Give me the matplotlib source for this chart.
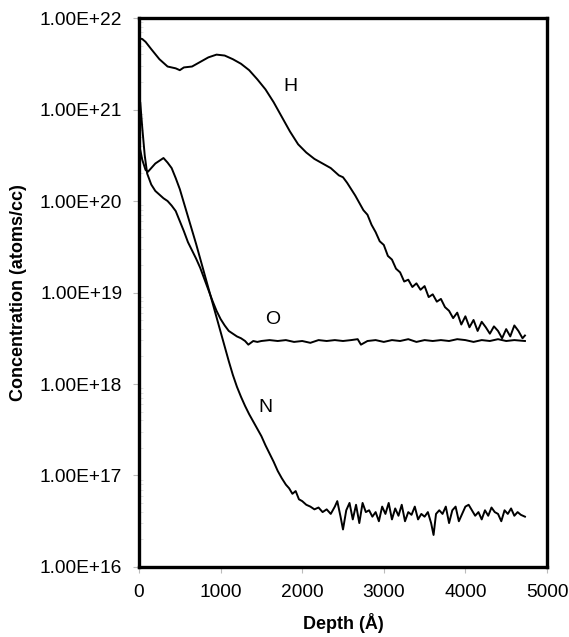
import numpy as np
import matplotlib
matplotlib.use('Agg')
import matplotlib.pyplot as plt
from matplotlib.ticker import FixedLocator, FuncFormatter, LogLocator, NullFormatter

plt.rcParams['font.family'] = ['Liberation Sans', 'DejaVu Sans']

# Depth profiles (depth in Angstrom, log10 of concentration in atoms/cc)
h_depth = [0, 40, 80, 150, 250, 350, 450, 500, 550, 650, 750, 850, 950, 1050, 1150,
           1250, 1350, 1450, 1550, 1650, 1750, 1850, 1950, 2050, 2150, 2250, 2350,
           2450, 2500, 2550, 2650, 2750, 2800, 2850, 2900, 2950, 3000, 3050, 3100,
           3150, 3200, 3250, 3300, 3350, 3400, 3450, 3500, 3550, 3600, 3650, 3700,
           3750, 3800, 3850, 3900, 3950, 4000, 4050, 4100, 4150, 4200, 4250, 4300,
           4350, 4400, 4450, 4500, 4550, 4600, 4650, 4700, 4730]
h_log = [21.78, 21.77, 21.74, 21.66, 21.55, 21.47, 21.45, 21.43, 21.46, 21.47, 21.52,
         21.57, 21.60, 21.59, 21.55, 21.50, 21.43, 21.33, 21.22, 21.08, 20.92, 20.76,
         20.62, 20.53, 20.46, 20.41, 20.36, 20.28, 20.26, 20.20, 20.06, 19.90, 19.85,
         19.74, 19.66, 19.56, 19.52, 19.40, 19.36, 19.26, 19.22, 19.12, 19.14, 19.06,
         19.10, 19.03, 19.07, 18.95, 18.98, 18.90, 18.93, 18.84, 18.80, 18.72, 18.78,
         18.65, 18.74, 18.62, 18.70, 18.58, 18.68, 18.62, 18.55, 18.63, 18.58, 18.50,
         18.60, 18.52, 18.64, 18.58, 18.50, 18.53]

o_depth = [0, 15, 40, 70, 100, 150, 200, 250, 300, 350, 400, 450, 500, 550, 600, 650,
           700, 750, 800, 850, 900, 950, 1000, 1050, 1100, 1150, 1200, 1250, 1300,
           1340, 1400, 1450, 1500, 1600, 1700, 1800, 1900, 2000, 2100, 2200, 2300,
           2400, 2500, 2600, 2680, 2720, 2800, 2900, 3000, 3100, 3200, 3300, 3400,
           3500, 3600, 3700, 3800, 3900, 4000, 4100, 4200, 4300, 4400, 4500, 4600,
           4730]
o_log = [20.85, 21.08, 20.80, 20.50, 20.30, 20.18, 20.11, 20.07, 20.03, 20.00, 19.95,
         19.89, 19.78, 19.67, 19.55, 19.46, 19.37, 19.27, 19.15, 19.03, 18.91, 18.80,
         18.71, 18.64, 18.58, 18.55, 18.52, 18.50, 18.47, 18.43, 18.47, 18.46, 18.47,
         18.48, 18.47, 18.48, 18.46, 18.47, 18.45, 18.48, 18.47, 18.48, 18.47, 18.48,
         18.49, 18.43, 18.47, 18.48, 18.46, 18.48, 18.47, 18.49, 18.46, 18.48, 18.47,
         18.48, 18.47, 18.49, 18.48, 18.46, 18.48, 18.47, 18.49, 18.47, 18.48, 18.47]

n_depth = [0, 15, 40, 80, 110, 150, 200, 250, 300, 350, 400, 450, 500, 550, 600, 650,
           700, 750, 800, 850, 900, 950, 1000, 1050, 1100, 1150, 1200, 1250, 1300,
           1350, 1400, 1450, 1500, 1550, 1600, 1650, 1700, 1750, 1800, 1840, 1880,
           1920, 1960, 2000, 2050, 2100, 2150, 2200, 2250, 2300, 2350, 2400, 2430,
           2470, 2500, 2540, 2580, 2620, 2660, 2700, 2740, 2780, 2820, 2860, 2900,
           2940, 2980, 3020, 3060, 3100, 3140, 3180, 3220, 3260, 3300, 3340, 3380,
           3420, 3460, 3500, 3540, 3580, 3610, 3640, 3680, 3720, 3760, 3800, 3840,
           3880, 3920, 3960, 4000, 4040, 4080, 4120, 4160, 4200, 4240, 4280, 4320,
           4360, 4400, 4440, 4480, 4520, 4560, 4600, 4640, 4680, 4730]
n_log = [20.45, 20.56, 20.45, 20.34, 20.32, 20.36, 20.41, 20.44, 20.47, 20.42, 20.36,
         20.25, 20.13, 19.98, 19.83, 19.68, 19.53, 19.37, 19.21, 19.05, 18.89, 18.73,
         18.57, 18.41, 18.25, 18.10, 17.97, 17.86, 17.76, 17.67, 17.59, 17.51, 17.43,
         17.33, 17.24, 17.15, 17.05, 16.97, 16.90, 16.86, 16.80, 16.83, 16.74, 16.72,
         16.68, 16.66, 16.63, 16.65, 16.60, 16.63, 16.58, 16.66, 16.72, 16.55, 16.41,
         16.62, 16.70, 16.52, 16.68, 16.48, 16.70, 16.60, 16.62, 16.55, 16.60, 16.50,
         16.66, 16.58, 16.70, 16.52, 16.64, 16.56, 16.68, 16.50, 16.60, 16.57, 16.66,
         16.52, 16.58, 16.55, 16.60, 16.48, 16.35, 16.58, 16.62, 16.58, 16.66, 16.48,
         16.62, 16.66, 16.50, 16.58, 16.66, 16.68, 16.62, 16.56, 16.60, 16.52, 16.62,
         16.56, 16.65, 16.60, 16.58, 16.50, 16.62, 16.58, 16.64, 16.56, 16.60, 16.57,
         16.55]

y_ticks = [1e16, 1e17, 1e18, 1e19, 1e20, 1e21, 1e22]
x_ticks = [0, 1000, 2000, 3000, 4000, 5000]

fig = plt.figure(figsize=(5.69, 6.37), dpi=100)
ax = fig.add_axes([0.2443, 0.1099, 0.7170, 0.8618])

for d, v in [(h_depth, h_log), (o_depth, o_log), (n_depth, n_log)]:
    ax.plot(d, 10 ** np.array(v), color='black', lw=1.4)

ax.set_yscale('log')
ax.set_ylim(1e16, 1e22)
ax.set_xlim(0, 5000)

ax.yaxis.set_major_locator(FixedLocator(y_ticks))
ax.yaxis.set_major_formatter(FuncFormatter(lambda v, p: '%.2E' % v))
ax.yaxis.set_minor_locator(LogLocator(base=10, subs=np.arange(2, 10), numticks=20))
ax.yaxis.set_minor_formatter(NullFormatter())
ax.xaxis.set_major_locator(FixedLocator(x_ticks))

ax.tick_params(axis='both', which='major', direction='out', length=4, width=0.8,
               color='#bbbbbb', labelsize=13.8, pad=8)
ax.tick_params(axis='y', which='minor', direction='in', length=3, width=0.6,
               color='#dddddd')

for s in ax.spines.values():
    s.set_linewidth(2.4)

ax.set_xlabel('Depth (Å)', fontsize=13, fontweight='bold', labelpad=9)
ax.set_ylabel('Concentration (atoms/cc)', fontsize=13, fontweight='bold', labelpad=9)

ax.text(1850, 10 ** 21.25, 'H', fontsize=14, ha='center', va='center')
ax.text(1642, 10 ** 18.70, 'O', fontsize=14, ha='center', va='center')
ax.text(1544, 10 ** 17.74, 'N', fontsize=14, ha='center', va='center')

fig.savefig('out.png', dpi=100)
